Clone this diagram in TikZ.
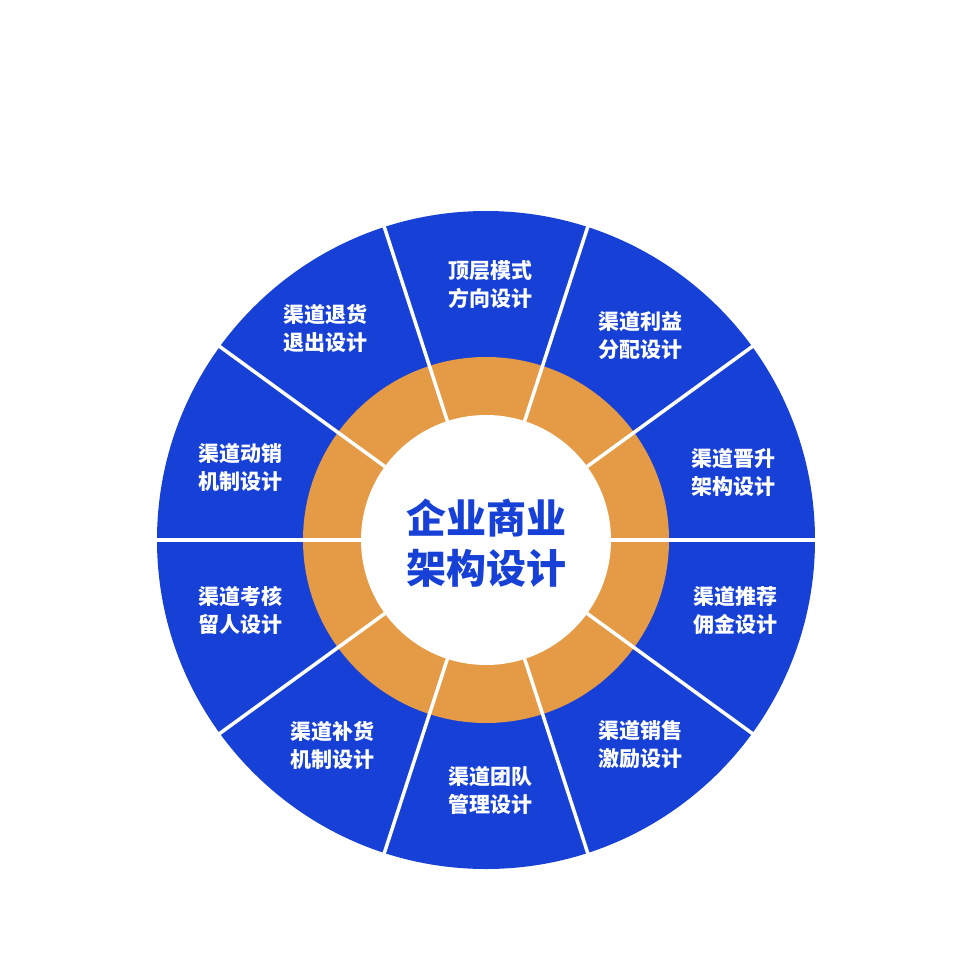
\documentclass[tikz,border=0pt]{standalone}
\usepackage{fontspec}
\usetikzlibrary{calc}
\newfontfamily\cjk{Noto Sans CJK SC}
\definecolor{bblue}{HTML}{1741D6}
\definecolor{oring}{HTML}{E59A45}
\begin{document}
\begin{tikzpicture}[x=1pt,y=-1pt,
  lab/.style={text=white,font=\cjk\bfseries\fontsize{21}{28}\selectfont,align=center},
  sep/.style={white,line width=3.5pt}]
\useasboundingbox[fill=white] (0,0) rectangle (960,960);
\coordinate (c) at (486,540);
\fill[bblue] (c) circle[radius=329];
\fill[oring] (c) circle[radius=183];
\fill[white] (c) circle[radius=125];
\foreach \a in {0,36,...,324}
  \draw[sep] ($(c)+(\a:125)$) -- ($(c)+(\a:331)$);
\node[text=bblue,font=\cjk\bfseries\fontsize{40}{50}\selectfont,align=center] (ctr) at (486,543) {企业商业\\架构设计};
\node[lab] (l1) at (490,285) {顶层模式\\方向设计};
\node[lab] (l2) at (640,335) {渠道利益\\分配设计};
\node[lab] (l3) at (733,472) {渠道晋升\\架构设计};
\node[lab] (l4) at (735,610) {渠道推荐\\佣金设计};
\node[lab] (l5) at (640,745) {渠道销售\\激励设计};
\node[lab] (l6) at (490,790) {渠道团队\\管理设计};
\node[lab] (l7) at (332,745) {渠道补货\\机制设计};
\node[lab] (l8) at (240,610) {渠道考核\\留人设计};
\node[lab] (l9) at (240,467) {渠道动销\\机制设计};
\node[lab] (l10) at (325,328) {渠道退货\\退出设计};
\end{tikzpicture}
\end{document}
